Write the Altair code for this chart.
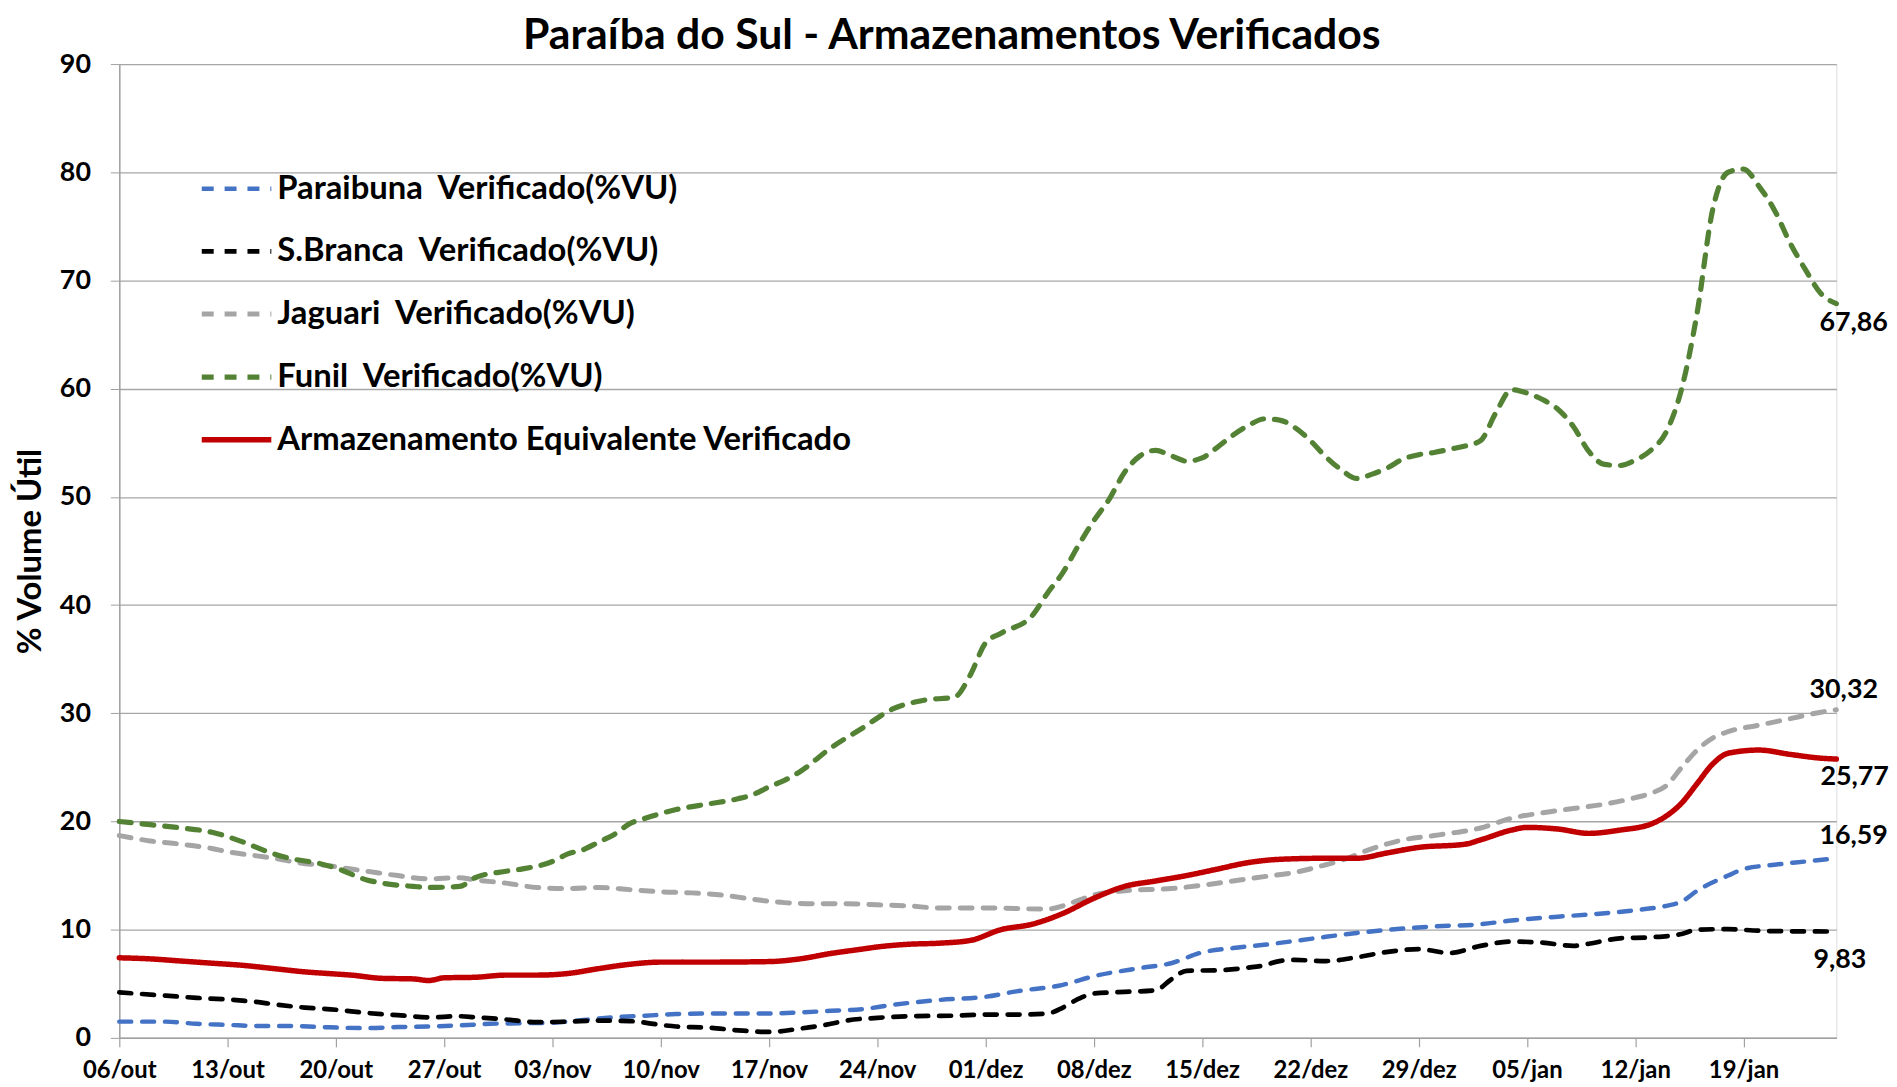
import altair as alt
import pandas as pd

# ---------------- data ----------------
series_names = [
    "Paraibuna \u00a0Verificado(%VU)",
    "S.Branca \u00a0Verificado(%VU)",
    "Jaguari \u00a0Verificado(%VU)",
    "Funil \u00a0Verificado(%VU)",
    "Armazenamento Equivalente Verificado",
]
series_colors = ["#4472C4", "#000000", "#A5A5A5", "#548235", "#C00000"]

tick_days = [0, 7, 14, 21, 28, 35, 42, 49, 56, 63, 70, 77, 84, 91, 98, 105]
tick_labels = ["06/out", "13/out", "20/out", "27/out", "03/nov", "10/nov", "17/nov",
               "24/nov", "01/dez", "08/dez", "15/dez", "22/dez", "29/dez", "05/jan",
               "12/jan", "19/jan"]

paraibuna_days = [0, 3, 5, 7, 9, 11, 13, 16, 18, 20, 22, 24, 26, 28, 30, 32, 34, 36, 38,
                  42, 44, 46, 48, 50, 53, 56, 58, 61, 63, 66, 68, 70, 72, 74, 77, 80, 83,
                  85, 88, 90, 93, 95, 98, 100, 101, 102, 104, 105, 107, 109, 111]
paraibuna_vals = [1.5, 1.5, 1.3, 1.2, 1.1, 1.1, 1.0, 0.9, 1.0, 1.05, 1.15, 1.3, 1.35, 1.4,
                  1.65, 1.9, 2.05, 2.2, 2.25, 2.25, 2.35, 2.5, 2.65, 3.05, 3.5, 3.8, 4.3,
                  4.9, 5.7, 6.45, 6.9, 7.9, 8.3, 8.6, 9.15, 9.7, 10.1, 10.3, 10.5, 10.85,
                  11.2, 11.4, 11.8, 12.2, 12.6, 13.6, 15.0, 15.6, 16.0, 16.3, 16.59]

sbranca_days = [0, 3, 5, 7, 9, 10, 12, 14, 16, 18, 20, 22, 23, 25, 27, 29, 31, 33, 35, 36,
                38, 40, 42, 44, 46, 47, 49, 51, 54, 56, 58, 60, 61, 62, 63, 65, 67, 68, 69,
                71, 73, 74, 75, 76, 78, 80, 82, 84, 86, 88, 90, 92, 94, 95, 97, 99, 101,
                102, 104, 106, 108, 111]
sbranca_vals = [4.2, 3.9, 3.7, 3.55, 3.3, 3.1, 2.8, 2.6, 2.3, 2.1, 1.9, 2.0, 1.9, 1.7, 1.45,
                1.5, 1.6, 1.55, 1.2, 1.05, 0.95, 0.7, 0.55, 0.85, 1.3, 1.6, 1.85, 2.0, 2.05,
                2.15, 2.15, 2.25, 2.8, 3.6, 4.1, 4.25, 4.4, 5.4, 6.2, 6.25, 6.5, 6.7, 7.1,
                7.2, 7.1, 7.45, 7.95, 8.2, 7.85, 8.5, 8.9, 8.8, 8.5, 8.7, 9.2, 9.3, 9.6,
                10.0, 10.05, 9.9, 9.85, 9.83]

jaguari_days = [0, 2, 4, 6, 7, 9, 10, 12, 13, 15, 16, 18, 20, 22, 23, 25, 27, 29, 31, 33,
                35, 37, 39, 41, 43, 45, 47, 49, 51, 53, 56, 60, 61, 62, 63, 65, 68, 70, 72,
                74, 76, 78, 79, 81, 83, 85, 86, 88, 90, 92, 94, 96, 98, 99, 100, 101, 102,
                103, 104, 106, 108, 110, 111]
jaguari_vals = [18.7, 18.2, 17.9, 17.5, 17.2, 16.8, 16.6, 16.1, 16.0, 15.6, 15.4, 15.0, 14.7,
                14.8, 14.6, 14.3, 13.9, 13.8, 13.9, 13.7, 13.5, 13.4, 13.2, 12.8, 12.5, 12.4,
                12.4, 12.3, 12.2, 12.0, 12.0, 11.9, 12.2, 12.7, 13.2, 13.6, 13.8, 14.1, 14.5,
                14.9, 15.3, 16.0, 16.4, 17.5, 18.3, 18.7, 18.9, 19.4, 20.3, 20.8, 21.2, 21.6,
                22.2, 22.6, 23.3, 25.0, 26.6, 27.7, 28.3, 28.9, 29.5, 30.1, 30.32]

funil_days = [0, 2, 4, 6, 7, 8, 10, 11, 13, 14, 16, 17, 19, 20, 22, 23, 25, 26, 28, 29, 30,
              31, 32, 33, 34, 36, 38, 40, 41, 42, 43, 44, 46, 48, 50, 52, 54, 55, 56, 57, 59,
              60, 61, 62, 63, 64, 65, 66, 67, 68, 69, 70, 71, 72, 73, 74, 75, 76, 77, 78, 79,
              80, 81, 82, 83, 84, 85, 86, 87, 88, 89, 90, 91, 92, 93, 94, 95, 96, 97, 98, 99,
              100, 101, 102, 103, 104, 105, 106, 107, 108, 109, 110, 111]
funil_vals = [20.0, 19.7, 19.4, 19.0, 18.6, 18.1, 17.0, 16.6, 16.1, 15.7, 14.6, 14.3, 14.0,
              13.9, 14.0, 14.8, 15.4, 15.6, 16.3, 17.0, 17.4, 18.1, 18.8, 19.8, 20.3, 21.1,
              21.6, 22.1, 22.5, 23.2, 23.8, 24.6, 26.8, 28.6, 30.4, 31.2, 31.5, 33.5, 36.5,
              37.4, 39.0, 41.1, 43.0, 45.5, 47.8, 49.8, 52.3, 53.8, 54.3, 53.8, 53.3, 53.6,
              54.6, 55.7, 56.6, 57.2, 57.1, 56.4, 55.2, 53.7, 52.5, 51.7, 52.1, 52.7, 53.5,
              53.9, 54.1, 54.4, 54.7, 55.2, 57.8, 59.9, 59.6, 59.0, 58.1, 56.5, 54.2, 53.0,
              52.9, 53.4, 54.3, 56.0, 60.0, 67.0, 76.5, 80.0, 80.3, 78.7, 76.5, 73.5, 71.0,
              68.8, 67.86]

equiv_days = [0, 2, 4, 6, 8, 10, 12, 14, 15, 17, 19, 20, 21, 23, 25, 27, 29, 31, 33, 35, 38,
              42, 44, 46, 48, 49, 51, 53, 55, 57, 59, 61, 63, 65, 67, 69, 71, 73, 75, 78, 80,
              82, 84, 87, 88, 90, 91, 93, 95, 97, 99, 100, 101, 102, 103, 104, 106, 108, 110,
              111]
equiv_vals = [7.4, 7.3, 7.1, 6.9, 6.7, 6.4, 6.1, 5.9, 5.8, 5.5, 5.45, 5.3, 5.55, 5.6, 5.8,
              5.8, 5.95, 6.4, 6.8, 7.0, 7.0, 7.05, 7.3, 7.8, 8.2, 8.4, 8.65, 8.75, 9.0, 10.0,
              10.5, 11.5, 12.9, 14.0, 14.5, 15.0, 15.6, 16.2, 16.5, 16.6, 16.6, 17.1, 17.6,
              17.9, 18.3, 19.2, 19.45, 19.3, 18.9, 19.2, 19.75, 20.5, 21.7, 23.5, 25.3, 26.3,
              26.6, 26.2, 25.85, 25.77]

all_days = [paraibuna_days, sbranca_days, jaguari_days, funil_days, equiv_days]
all_vals = [paraibuna_vals, sbranca_vals, jaguari_vals, funil_vals, equiv_vals]

rows = []
for k, (name, ds, vs) in enumerate(zip(series_names, all_days, all_vals)):
    for d, v in zip(ds, vs):
        rows.append({"series": name, "day": d, "value": v, "k": k})
df = pd.DataFrame(rows)

FONT = "Lato"
label_expr = "[" + ",".join("'" + t + "'" for t in tick_labels) + "][round(datum.value/7)]"

x_enc = alt.X("day:Q",
              scale=alt.Scale(domain=[0, 111], nice=False, zero=False),
              axis=alt.Axis(values=tick_days, labelExpr=label_expr, title=None, grid=False,
                            labelFont=FONT, labelFontSize=24, labelFontWeight="bold",
                            labelColor="#000000", labelPadding=12, tickSize=9,
                            tickColor="#a0a0a0", domainColor="#a0a0a0", domainWidth=1.5,
                            tickWidth=1.2, labelFlush=False))
y_enc = alt.Y("value:Q",
              scale=alt.Scale(domain=[0, 90], nice=False),
              axis=alt.Axis(values=list(range(0, 91, 10)), title="% Volume Útil", grid=True,
                            gridColor="#a6a6a6", gridWidth=1.3, labelFont=FONT,
                            labelFontSize=27, labelFontWeight="bold", labelColor="#000000",
                            labelPadding=20, tickSize=9, tickColor="#a0a0a0",
                            domainColor="#a0a0a0", domainWidth=1.5, titleFont=FONT,
                            titleFontSize=33, titleFontWeight="bold", titleColor="#000000",
                            titlePadding=12))

legend_kw = dict(title=None, orient="none", legendX=80, legendY=88,
                 symbolType="stroke", symbolSize=4900, labelFont=FONT,
                 labelFontSize=33, labelFontWeight="bold", labelColor="#000000",
                 rowPadding=8, labelOffset=3, labelLimit=900)

lines = alt.Chart(df).mark_line(interpolate="monotone", strokeCap="round").encode(
    x=x_enc,
    y=y_enc,
    color=alt.Color("series:N", scale=alt.Scale(domain=series_names, range=series_colors),
                    legend=alt.Legend(**legend_kw)),
    strokeDash=alt.StrokeDash("series:N",
                              scale=alt.Scale(domain=series_names,
                                              range=[[12, 11], [12, 11], [12, 11], [12, 11], [1, 0]]),
                              legend=alt.Legend(**legend_kw)),
    strokeWidth=alt.StrokeWidth("series:N",
                                scale=alt.Scale(domain=series_names,
                                                range=[4.5, 5.5, 4.5, 4.5, 8.5]),
                                legend=alt.Legend(**legend_kw)),
    order=alt.Order("k:Q"),
    detail="series:N",
)


def fmt(v):
    return f"{v:.2f}".replace(".", ",")


end_specs = [
    (funil_days, funil_vals, -17, 20),
    (jaguari_days, jaguari_vals, -27, -20),
    (equiv_days, equiv_vals, -16, 18),
    (paraibuna_days, paraibuna_vals, -17, -22),
    (sbranca_days, sbranca_vals, -23, 29),
]
texts = []
for ds, vs, dx, dy in end_specs:
    t = pd.DataFrame({"day": [ds[-1]], "value": [vs[-1]], "label": [fmt(vs[-1])]})
    texts.append(
        alt.Chart(t).mark_text(align="left", baseline="middle", dx=dx, dy=dy, font=FONT,
                               fontSize=27, fontWeight="bold", color="#000000")
        .encode(x="day:Q", y="value:Q", text="label:N")
    )

chart = alt.layer(lines, *texts).properties(
    width=1893,
    height=1078,
    autosize=alt.AutoSizeParams(type="fit", contains="padding"),
    padding={"left": 6, "top": 4, "right": 0, "bottom": 0},
    title=alt.Title("Paraíba do Sul - Armazenamentos Verificados", font=FONT, fontSize=43,
                    fontWeight="bold", color="#000000", anchor="middle", frame="bounds",
                    offset=-8),
).configure_view(stroke=None).configure(background="white")

chart.save("out.html", embed_options={"renderer": "svg", "actions": False})
